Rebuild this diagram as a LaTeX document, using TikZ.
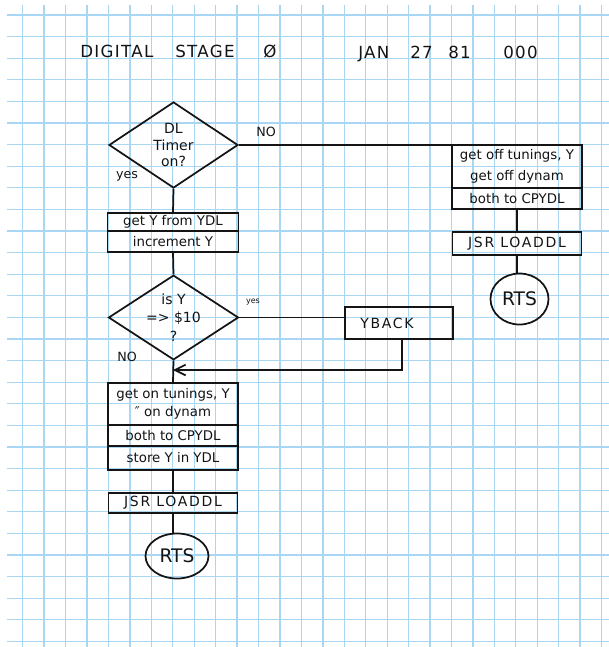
\documentclass[tikz,border=0pt]{standalone}
\usepackage{fontspec}
\setmainfont{DejaVu Sans}
\newfontfamily\titlefont[LetterSpace=8]{DejaVu Sans}
\newfontfamily\capsfont[LetterSpace=12]{DejaVu Sans}
\usetikzlibrary{shapes.geometric,arrows.meta,calc}
\definecolor{gridblue}{RGB}{168,214,243}
\definecolor{inkc}{RGB}{20,20,20}
\tikzset{
  pw/.style={minimum width=#1*0.75pt},
  ph/.style={minimum height=#1*0.75pt},
  inkline/.style={draw=inkc, line width=1.3pt},
  box/.style={inkline, rectangle, inner sep=1pt, font=\fontsize{10}{12}\selectfont, align=center, text=inkc},
  capsbox/.style={box, font=\capsfont\fontsize{10.5}{12}\selectfont},
  dec/.style={inkline, diamond, inner sep=0pt, aspect=1.5, font=\fontsize{10.5}{12.6}\selectfont, align=center, text=inkc},
  term/.style={inkline, ellipse, inner sep=0pt, font=\fontsize{14}{16}\selectfont, text=inkc},
  conn/.style={draw=inkc, line width=1.3pt},
  lbl/.style={font=\fontsize{9.5}{11}\selectfont, text=inkc, inner sep=0pt},
  ttl/.style={font=\titlefont\fontsize{12.5}{15}\selectfont, text=inkc, anchor=base west, inner sep=0pt},
  gridline/.style={draw=gridblue, line width=1pt}
}
\begin{document}
\begin{tikzpicture}[x=0.75pt,y=-0.75pt]
\useasboundingbox (0,0) rectangle (609,647);
\fill[white] (0,0) rectangle (609,647);
\foreach \i in {0,...,27} \draw[gridline] ({22.7+21.44*\i},5) -- ({22.7+21.44*\i},647);
\foreach \j in {0,...,29} \draw[gridline] (7,{15+21.6*\j}) -- (609,{15+21.6*\j});

% title
\node[ttl] (t1) at (80,57) {DIGITAL};
\node[ttl] (t2) at (175,57) {STAGE};
\node[ttl] (t3) at (263,57) {Ø};
\node[ttl] (t4) at (358,58) {JAN};
\node[ttl] (t5) at (410,58) {27};
\node[ttl] (t6) at (448,58) {81};
\node[ttl] (t7) at (503,58) {000};

% decisions
\node[dec, pw=129, ph=86] (d1) at (173.5,145) {DL\\Timer\\on?};
\node[dec, pw=130, ph=83] (d2) at (173.5,317.5) {is Y\\[1.5pt]=> \$10\\[1.5pt]?};

% left upper boxes
\node[box, pw=131, ph=18] (b1) at (173,222) {get Y from YDL};
\node[box, pw=131, ph=21] (b2) at (173,241.5) {increment Y};

% right column
\node[box, pw=130, ph=43] (r1) at (517,166.5) {get off tunings, Y\\[4pt]get off dynam};
\node[box, pw=130, ph=21] (r2) at (517,198.5) {both to CPYDL};
\node[capsbox, pw=129, ph=23] (rj) at (517,243.5) {JSR LOADDL};
\node[term, pw=58, ph=51] (rr) at (519.5,299) {RTS};

% YBACK
\node[capsbox, pw=108, ph=32] (yb) at (399,323) {YBACK\hspace*{18pt}};

% left lower boxes
\node[box, pw=130, ph=42] (l1) at (173,404) {get on tunings, Y\\[1.5pt]″ on dynam};
\node[box, pw=130, ph=21] (l2) at (173,435.5) {both to CPYDL};
\node[box, pw=130, ph=24] (l3) at (173,458) {store Y in YDL};
\node[capsbox, pw=129, ph=20.5] (lj) at (173,503) {JSR LOADDL};
\node[term, pw=63, ph=45] (lr) at (177,556) {RTS};

% labels
\node[lbl] (no1) at (266,132) {NO};
\node[lbl] (yes1) at (127,176) {yes};
\node[lbl, font=\fontsize{6}{7}\selectfont] (yes2) at (253,302) {yes};
\node[lbl] (no2) at (127,357) {NO};

% connectors
\draw[conn] (d1.south) -- (b1.north);
\draw[conn] (d1.east) -- (d1.east -| r1.west);
\draw[conn] (r2.south) -- (rj.north);
\draw[conn] (rj.south) -- (rj.south |- rr.north);
\draw[conn] (b2.south) -- (d2.north);
\draw[conn] (d2.east) -- (d2.east -| yb.west);
\coordinate (mrg) at (173,370);
\draw[conn, -{Straight Barb[length=8pt,width=8pt]}] ($(yb.south)+(3,0)$) |- (mrg);
\draw[conn] (d2.south) -- (l1.north);
\draw[conn] (l3.south) -- (lj.north);
\draw[conn] (lj.south) -- (lj.south |- lr.north);
\end{tikzpicture}
\end{document}
